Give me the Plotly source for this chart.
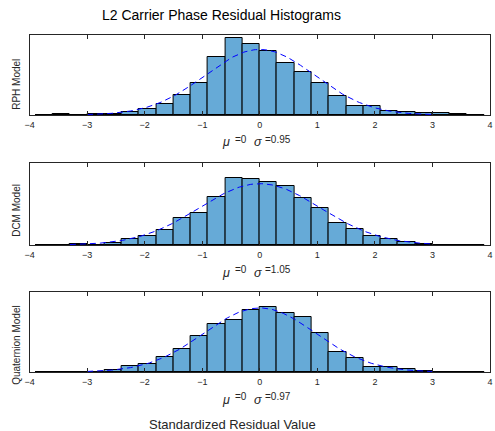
import numpy as np
import plotly.graph_objects as go

# Histogram bins (width 0.3) shared by all three models
bin_edges = np.round(np.arange(-3.9, 3.9 + 1e-9, 0.3), 2)
bin_width = 0.3
bin_centers = (bin_edges[:-1] + bin_edges[1:]) / 2

model_names = ["RPH Model", "DCM Model", "Quaternion Model"]

# Residual counts per bin, left to right
rph_counts = [0, 2, 1, 2, 4, 8, 17, 32, 62, 98, 176, 233, 215,
              194, 157, 129, 97, 59, 27, 27, 11, 8, 6, 5, 3, 1]
dcm_counts = [0, 0, 3, 1, 6, 17, 28, 45, 81, 94, 142, 199, 195,
              188, 174, 138, 111, 66, 46, 28, 18, 10, 2, 1, 1, 0]
quat_counts = [1, 1, 0, 1, 6, 19, 24, 45, 68, 109, 145, 155, 186,
               195, 177, 165, 117, 61, 41, 15, 15, 9, 2, 0, 1, 0]

# Fitted normal parameters
mu_values = [0, 0, 0]
sigma_values = [0.95, 1.05, 0.97]
sigma_labels = ["0.95", "1.05", "0.97"]

# Extent of each fitted curve and count-axis ceiling
curve_spans = [(-3.0, 3.0), (-3.3, 3.0), (-3.0, 3.0)]
count_ceilings = [242, 243, 240]

x_ticks = [-4, -3, -2, -1, 0, 1, 2, 3, 4]

W, H = 495, 431
FONT = "Liberation Sans, Arial, Helvetica, sans-serif"
AXIS_COLOR = "rgb(38,38,38)"
BAR_COLOR = "rgb(102,170,215)"

# Axes boxes in pixels: (top, bottom)
panel_px = [(35, 115), (163, 245), (292, 372)]
x_px = (25, 493)
ylabel_centers = [84, 210, 345]


def px_x(p):
    return p / W


def px_y(p):
    return 1 - p / H


def note(text, x, y, size, xanchor="center", color=AXIS_COLOR, angle=0):
    return dict(
        text=text, textangle=angle,
        x=px_x(x), y=px_y(y), xref="paper", yref="paper",
        xanchor=xanchor, yanchor="middle", showarrow=False,
        font=dict(family=FONT, size=size, color=color),
    )


fig = go.Figure()
all_counts = [rph_counts, dcm_counts, quat_counts]

annotations = []
for i, counts in enumerate(all_counts):
    n = i + 1
    xa = "x" if n == 1 else f"x{n}"
    ya = "y" if n == 1 else f"y{n}"
    counts = np.array(counts, dtype=float)

    fig.add_trace(go.Bar(
        x=bin_centers, y=counts, width=bin_width,
        marker=dict(color=BAR_COLOR, line=dict(color="black", width=1)),
        xaxis=xa, yaxis=ya, showlegend=False, hoverinfo="skip",
    ))

    # Normal fit scaled to the histogram counts
    total = counts.sum()
    lo, hi = curve_spans[i]
    xs = np.linspace(lo, hi, 200)
    mu, sd = mu_values[i], sigma_values[i]
    pdf = np.exp(-0.5 * ((xs - mu) / sd) ** 2) / (sd * np.sqrt(2 * np.pi))
    fig.add_trace(go.Scatter(
        x=xs, y=total * bin_width * pdf, mode="lines",
        line=dict(color="rgb(0,0,255)", width=1, dash="6px,4px"),
        xaxis=xa, yaxis=ya, showlegend=False, hoverinfo="skip",
    ))

    top, bottom = panel_px[i]
    fig.update_layout(**{
        ("xaxis" if n == 1 else f"xaxis{n}"): dict(
            domain=[px_x(x_px[0]), px_x(x_px[1])],
            anchor=ya, range=[-4, 4],
            tickmode="array", tickvals=x_ticks,
            ticks="inside", ticklen=4, tickwidth=1, tickcolor=AXIS_COLOR,
            showline=True, linecolor=AXIS_COLOR, linewidth=1, mirror="ticks",
            showgrid=False, zeroline=False, ticklabeloverflow="allow",
            ticklabelstandoff=1,
            tickfont=dict(family=FONT, size=9, color=AXIS_COLOR),
        ),
        ("yaxis" if n == 1 else f"yaxis{n}"): dict(
            domain=[px_y(bottom), px_y(top)],
            anchor=xa, range=[0, count_ceilings[i]],
            showticklabels=False, ticks="",
            showline=True, linecolor=AXIS_COLOR, linewidth=1, mirror=True,
            showgrid=False, zeroline=False,
        ),
    })

    # Model name along the left edge
    annotations.append(note(model_names[i], 11, ylabel_centers[i], 10, angle=-90))

    # Fit parameters under each panel: symbol with raised value
    annotations.append(note("<i>\u03bc</i>", 225, bottom + 27.5, 12.5))
    annotations.append(note(f"={mu_values[i]}", 231.5, bottom + 24.5, 10,
                            xanchor="left"))
    annotations.append(note("<i>\u03c3</i>", 257.5, bottom + 27.5, 12.5))
    annotations.append(note(f"={sigma_labels[i]}", 262.5, bottom + 24.5, 10,
                            xanchor="left"))

annotations.append(note("L2 Carrier Phase Residual Histograms", 220.5, 15, 14,
                        color="black"))
annotations.append(note("Standardized Residual Value", 231, 424, 13))

fig.update_layout(
    width=W, height=H, autosize=False,
    margin=dict(l=0, r=0, t=0, b=0),
    paper_bgcolor="white", plot_bgcolor="white",
    bargap=0, barmode="overlay",
    annotations=annotations,
)

fig.write_html("out.html")
